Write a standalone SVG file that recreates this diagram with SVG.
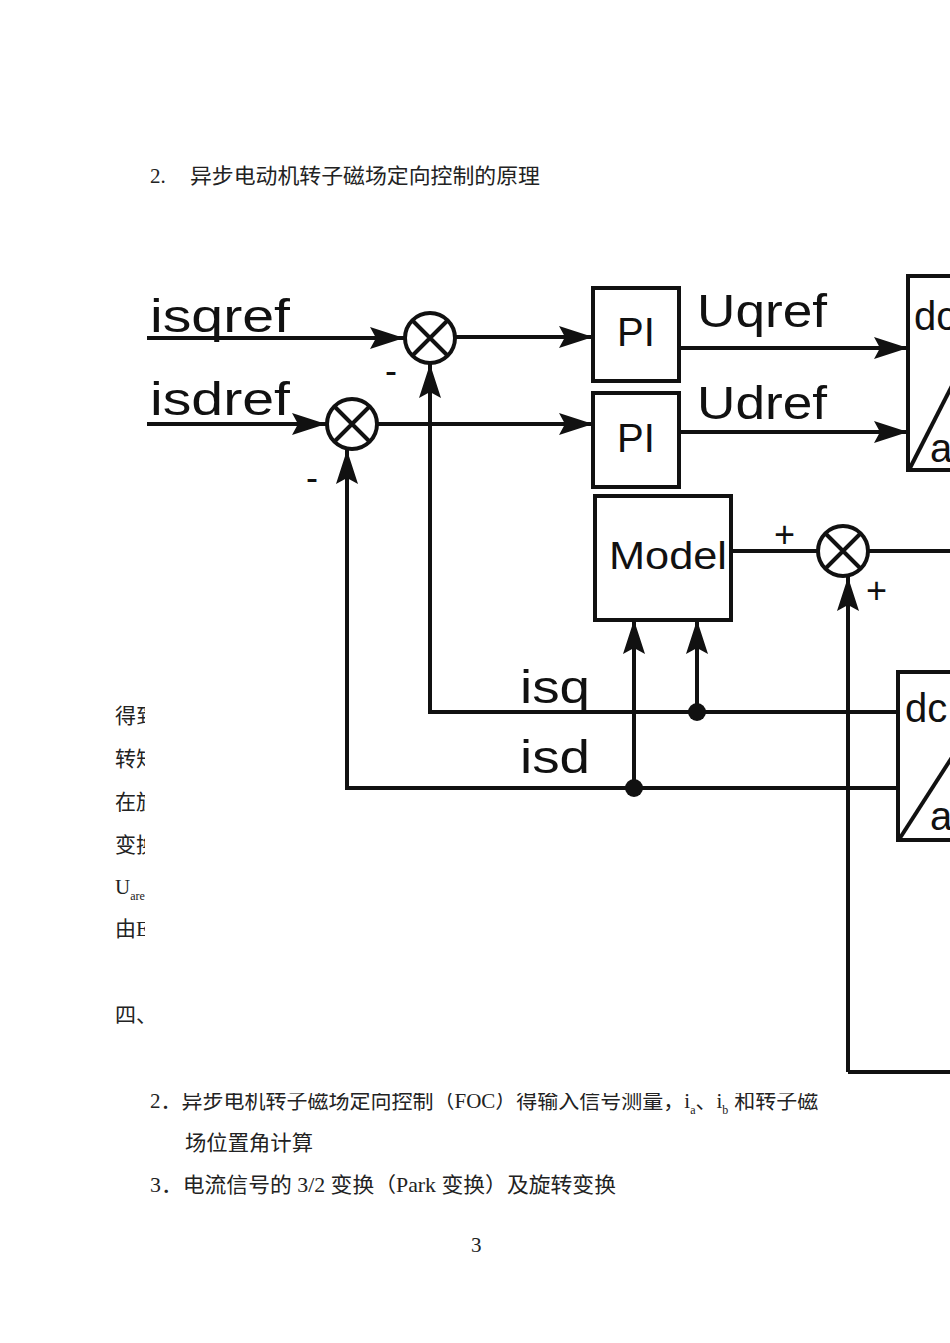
<svg xmlns="http://www.w3.org/2000/svg" width="950" height="1343" viewBox="0 0 950 1343">
<style>
.p{font-family:"Liberation Serif","Noto Sans CJK SC",serif;font-size:21px;fill:#222}
.d{font-family:"Liberation Sans",Arial,sans-serif;fill:#111}
.w{stroke:#111;stroke-width:4;fill:none}
</style>
<defs>
<marker id="b" viewBox="0 0 34 22" refX="34" refY="11" markerWidth="34" markerHeight="22" markerUnits="userSpaceOnUse" orient="auto">
<path d="M0,0L34,11L0,22L6,11Z" fill="#111"/>
</marker>
</defs>
<rect width="950" height="1343" fill="#fff"/>
<g id="page-text">
<text class="p" x="150" y="183">2.</text>
<text class="p" x="190" y="183" textLength="350" lengthAdjust="spacingAndGlyphs">异步电动机转子磁场定向控制的原理</text>
<text class="p" x="115" y="723">得到</text>
<text class="p" x="115" y="766">转矩</text>
<text class="p" x="115" y="809">在旋</text>
<text class="p" x="115" y="852">变换</text>
<text class="p" x="115" y="894">U<tspan font-size="12" dy="6">are</tspan></text>
<text class="p" x="115" y="936">由E</text>
<text class="p" x="115" y="1022">四、</text>
<text class="p" x="150" y="1108">2．异步电机转子磁场定向控制（FOC）得输入信号测量，i<tspan font-size="12" dy="6">a</tspan><tspan dy="-6">、i</tspan><tspan font-size="12" dy="6">b</tspan><tspan dy="-6" dx="6">和转子磁</tspan></text>
<text class="p" x="185" y="1150" textLength="128" lengthAdjust="spacingAndGlyphs">场位置角计算</text>
<text class="p" x="150" y="1192" textLength="466" lengthAdjust="spacingAndGlyphs">3．电流信号的 3/2 变换（Park 变换）及旋转变换</text>
<text class="p" x="471" y="1252" font-size="16">3</text>
</g>
<rect x="145" y="262" width="805" height="831" fill="#fff"/>
<g id="connectors" class="w">
<line x1="147" y1="338" x2="404" y2="338" marker-end="url(#b)"/>
<line x1="456" y1="337" x2="593" y2="337" marker-end="url(#b)"/>
<line x1="147" y1="424" x2="326" y2="424" marker-end="url(#b)"/>
<line x1="378" y1="424" x2="593" y2="424" marker-end="url(#b)"/>
<line x1="679" y1="348" x2="908" y2="348" marker-end="url(#b)"/>
<line x1="679" y1="432" x2="908" y2="432" marker-end="url(#b)"/>
<line x1="731" y1="551" x2="818" y2="551"/>
<line x1="868" y1="551" x2="950" y2="551"/>
<polyline points="848,1072 950,1072"/>
<line x1="848" y1="1072" x2="848" y2="577" marker-end="url(#b)"/>
<polyline points="898,712 430,712 430,364" marker-end="url(#b)"/>
<polyline points="898,788 347,788 347,450" marker-end="url(#b)"/>
<line x1="697" y1="712" x2="697" y2="620" marker-end="url(#b)"/>
<line x1="634" y1="788" x2="634" y2="620" marker-end="url(#b)"/>
<circle cx="697" cy="712" r="9" fill="#111" stroke="none"/>
<circle cx="634" cy="788" r="9" fill="#111" stroke="none"/>
</g>
<g id="labels" class="d">
<text x="150" y="332" font-size="46" textLength="140" lengthAdjust="spacingAndGlyphs">isqref</text>
<text x="150" y="415" font-size="46" textLength="140" lengthAdjust="spacingAndGlyphs">isdref</text>
<text x="697" y="327" font-size="46" textLength="130" lengthAdjust="spacingAndGlyphs">Uqref</text>
<text x="697" y="419" font-size="46" textLength="130" lengthAdjust="spacingAndGlyphs">Udref</text>
<text x="520" y="703" font-size="46" textLength="70" lengthAdjust="spacingAndGlyphs">isq</text>
<text x="520" y="773" font-size="46" textLength="70" lengthAdjust="spacingAndGlyphs">isd</text>
<text x="385" y="383" font-size="36">-</text>
<text x="306" y="490" font-size="36">-</text>
<text x="774" y="547" font-size="36">+</text>
<text x="866" y="603" font-size="36">+</text>
</g>
<g id="sum1" class="w"><circle cx="430" cy="338" r="25"/><path d="M412,320L448,356M448,320L412,356"/></g>
<g id="sum2" class="w"><circle cx="352" cy="424" r="25"/><path d="M334,406L370,442M370,406L334,442"/></g>
<g id="sum3" class="w"><circle cx="843" cy="551" r="25"/><path d="M825,533L861,569M861,533L825,569"/></g>
<g id="pi1"><rect class="w" x="593" y="288" width="86" height="93"/><text class="d" x="636" y="346" font-size="40" text-anchor="middle">PI</text></g>
<g id="pi2"><rect class="w" x="593" y="393" width="86" height="94"/><text class="d" x="636" y="452" font-size="40" text-anchor="middle">PI</text></g>
<g id="model"><rect class="w" x="595" y="496" width="136" height="124"/><text class="d" x="609" y="569" font-size="38" textLength="118" lengthAdjust="spacingAndGlyphs">Model</text></g>
<g id="dqab1"><rect class="w" x="908" y="276" width="60" height="194"/><line class="w" x1="910" y1="468" x2="960" y2="370"/><text class="d" x="914" y="330" font-size="40">dc</text><text class="d" x="930" y="462" font-size="40">a</text></g>
<g id="dqab2"><rect class="w" x="898" y="672" width="70" height="168"/><line class="w" x1="900" y1="838" x2="958" y2="748"/><text class="d" x="905" y="722" font-size="40">dc</text><text class="d" x="930" y="830" font-size="40">a</text></g>
</svg>
